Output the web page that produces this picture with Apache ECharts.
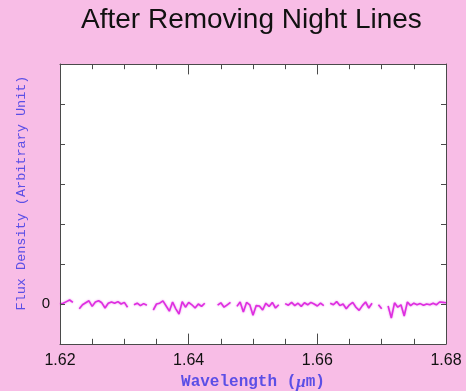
<!DOCTYPE html>
<html>
<head>
<meta charset="utf-8">
<script src="https://cdn.jsdelivr.net/npm/echarts@6/dist/echarts.min.js"></script>
<style>
  html, body { margin: 0; padding: 0; background: #f8bde6; }
  #chart { width: 466px; height: 391px; }
</style>
</head>
<body>
<div id="chart"></div>
<script>
// Residual spectrum after sky-line subtraction, sampled every 0.0005 µm
const titleText = 'After Removing Night Lines';
const xTickLabels = ['1.62', '1.64', '1.66', '1.68'];
const yTickLabels = ['0'];
const xMajorTicks = [1.62, 1.64, 1.66, 1.68];
const xMinorTicks = [1.625, 1.63, 1.635, 1.645, 1.65, 1.655, 1.665, 1.67, 1.675];
const waveStart = 1.62;
const waveStep = 0.0005;
// flux per sample (null = masked sky-line pixels)
const flux = [
  0.00, 0.02, 0.06, 0.10, 0.04, null, -0.12, -0.02, 0.03, 0.08,
  -0.06, 0.05, 0.08, 0.03, -0.10, 0.02, 0.05, 0.02, 0.06, 0.00,
  0.04, -0.08, null, -0.02, 0.02, -0.04, 0.01, -0.03, null, -0.15,
  0.00, 0.02, 0.08, -0.05, -0.18, 0.05, -0.12, -0.25, 0.06, -0.08,
  0.04, -0.02, -0.10, 0.00, -0.06, 0.02, null, null, null, -0.03,
  0.03, -0.08, -0.02, 0.04, null, -0.06, 0.05, -0.20, 0.04, -0.02,
  -0.28, -0.04, -0.05, -0.15, 0.02, -0.06, 0.04, -0.10, -0.02, null,
  0.01, -0.03, 0.04, -0.04, 0.02, -0.06, 0.03, -0.02, 0.04, 0.00,
  -0.05, 0.02, -0.04, null, 0.02, -0.02, 0.06, -0.04, 0.00, -0.12,
  -0.02, 0.04, -0.08, -0.16, -0.04, 0.05, -0.10, 0.02, null, -0.02,
  -0.12, null, -0.05, -0.35, 0.03, -0.08, -0.02, -0.30, 0.05, -0.04,
  0.02, -0.02, 0.01, -0.03, 0.00, -0.02, 0.02, -0.02, 0.05, 0.04,
  0.03
];

const points = flux.map((v, i) => [+(waveStart + i * waveStep).toFixed(5), v]);

const chart = echarts.init(document.getElementById('chart'), null, { renderer: 'canvas' });

const frameColor = '#4a4a4a';
const labelBlue = '#5b4fe6';
const xMin = 1.62, xMax = 1.68, yMin = -1, yMax = 6;
// tick lengths expressed in flux units (40 px per unit on this axis)
const majorTickSpan = 0.26, minorTickSpan = 0.13;

// short vertical segments at each wavelength tick, on the bottom and top edges
function tickSegments(list, span) {
  const segs = [];
  list.forEach(w => {
    segs.push([{ coord: [w, yMin] }, { coord: [w, yMin + span] }]);
    segs.push([{ coord: [w, yMax] }, { coord: [w, yMax - span] }]);
  });
  return segs;
}

function xAxisDef(position, withLabels) {
  const ax = {
    type: 'value', min: xMin, max: xMax, interval: 0.02, position: position, z: 5,
    axisLine: { show: true, onZero: false, lineStyle: { color: frameColor, width: 1 } },
    axisTick: { show: false },
    axisLabel: { show: false },
    splitLine: { show: false }
  };
  if (withLabels) {
    ax.axisLabel = {
      show: true, margin: 9, fontFamily: 'Liberation Sans', fontSize: 16, color: '#111',
      formatter: v => { const s = v.toFixed(2); return xTickLabels.includes(s) ? s : ''; }
    };
    ax.name = '{t|Wavelength (}{m|μ}{t|m)}';
    ax.nameLocation = 'middle';
    ax.nameGap = 29;
    ax.nameTextStyle = {
      rich: {
        t: { fontFamily: 'Liberation Mono', fontSize: 16, fontWeight: 'bold', color: labelBlue },
        m: { fontFamily: 'Liberation Serif', fontSize: 17, fontStyle: 'italic', fontWeight: 'bold', color: labelBlue }
      }
    };
  }
  return ax;
}

function yAxisDef(position, withLabels) {
  const ax = {
    type: 'value', min: yMin, max: yMax, interval: 1, position: position, z: 5,
    axisLine: { show: true, onZero: false, lineStyle: { color: frameColor, width: 1 } },
    axisTick: { show: true, inside: true, length: 5, lineStyle: { color: frameColor } },
    axisLabel: { show: false },
    splitLine: { show: false }
  };
  if (withLabels) {
    ax.axisLabel = {
      show: true, margin: 10, fontFamily: 'Liberation Sans', fontSize: 15, color: '#111',
      formatter: v => { const s = String(v); return yTickLabels.includes(s) ? s : ''; }
    };
    ax.name = 'Flux Density (Arbitrary Unit)';
    ax.nameLocation = 'middle';
    ax.nameGap = 32;
    ax.nameTextStyle = { fontFamily: 'Liberation Mono', fontSize: 13.5, color: labelBlue, padding: [0, 0, 0, 22] };
  }
  return ax;
}

chart.setOption({
  backgroundColor: '#f8bde6',
  animation: false,
  title: {
    text: titleText, left: 76, top: 1,
    textStyle: { fontFamily: 'Liberation Sans', fontSize: 28, fontWeight: 'normal', color: '#111' }
  },
  grid: { left: 60, right: 20, top: 64, bottom: 47, outerBoundsMode: 'none', show: false },
  xAxis: [
    xAxisDef('bottom', true),
    xAxisDef('top', false)
  ],
  yAxis: [
    yAxisDef('left', true),
    yAxisDef('right', false)
  ],
  series: [{
    type: 'line', data: points, xAxisIndex: 0, yAxisIndex: 0, z: 3,
    showSymbol: false, connectNulls: false,
    lineStyle: { color: '#de2ee0', width: 1.6, shadowColor: 'rgba(222,46,224,0.6)', shadowBlur: 2 },
    silent: true,
    // white plot panel spanning the full axis ranges
    markArea: {
      silent: true,
      itemStyle: { color: '#ffffff', borderWidth: 0 },
      data: [[{ coord: [xMin, yMin] }, { coord: [xMax, yMax] }]]
    }
  }, {
    // wavelength tick marks along the bottom and top frame
    type: 'line', data: [], xAxisIndex: 0, yAxisIndex: 0, z: 6, silent: true,
    markLine: {
      silent: true, symbol: ['none', 'none'], animation: false,
      label: { show: false },
      lineStyle: { color: frameColor, width: 1, type: 'solid' },
      emphasis: { disabled: true },
      data: tickSegments(xMajorTicks, majorTickSpan).concat(tickSegments(xMinorTicks, minorTickSpan))
    }
  }]
});
</script>
</body>
</html>
